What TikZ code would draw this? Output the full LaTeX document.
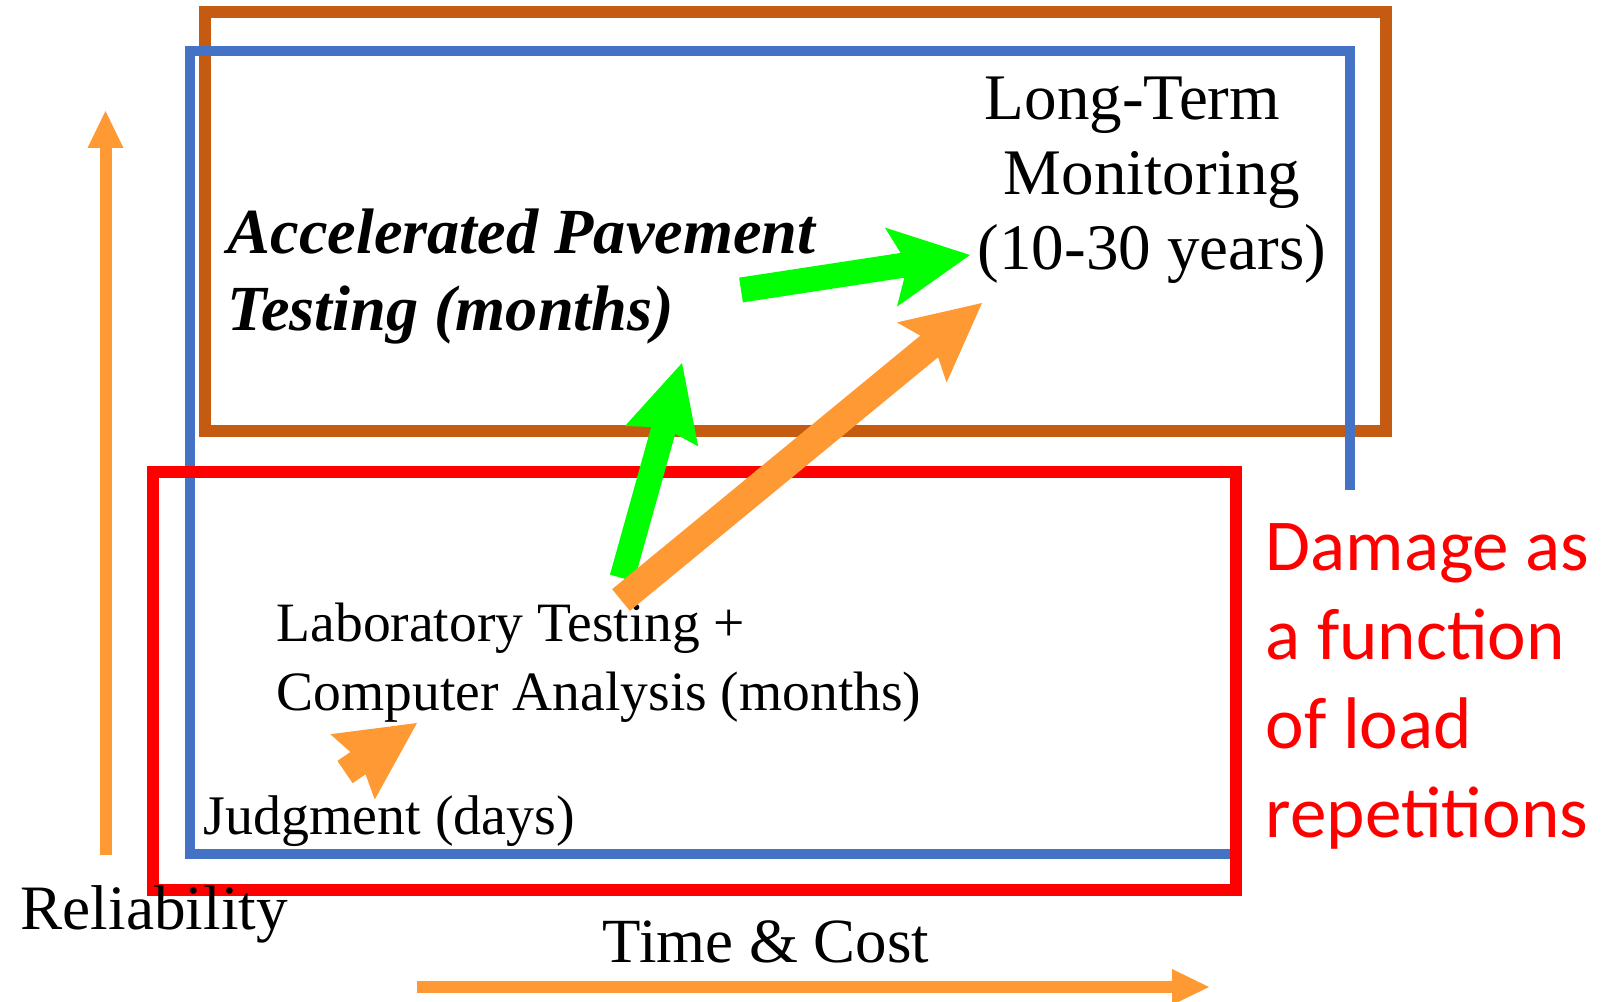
\documentclass[tikz,border=0pt]{standalone}
\usepackage{fontspec}
\setmainfont{Liberation Serif}
\newfontfamily\calibri{Carlito}
\usetikzlibrary{arrows.meta,positioning,calc}
\definecolor{apbrown}{HTML}{C55A11}
\definecolor{apblue}{HTML}{4472C4}
\definecolor{apred}{HTML}{FF0000}
\definecolor{aporange}{HTML}{FF9933}
\definecolor{apgreen}{HTML}{00FF00}

\begin{document}
\begin{tikzpicture}[
    x=0.1mm, y=-0.1mm,
    lbl/.style={inner sep=0pt, anchor=base west, text=black},
    axisarrow/.style={draw=aporange, line width=1.2mm, -{Triangle[length=3.7mm, width=3.6mm, line width=0pt]}},
    fatarrow/.style={line width=2.5mm, -{Stealth[length=8mm, width=8mm, inset=1.7mm, line width=0pt]}}
]
\useasboundingbox (0,0) rectangle (1604,1001);

% Frames
\draw[apbrown, line width=1.15mm] (205,12) rectangle (1386,431);
\draw[apblue, line width=1mm] (1350,490) -- (1350,51) -- (190,51) -- (190,854) -- (1241,854);
\draw[apred, line width=1.2mm] (153,472) rectangle (1236,890);

% Texts (multi-line nodes sit on their last baseline)
\node[lbl, anchor=base, align=center, font=\fontsize{18.5}{21.3}\selectfont] (ltm) at (1152,269) {Long-Term\hspace*{0.6em}\\Monitoring\\(10-30 years)};
\node[lbl, align=left, font=\fontsize{18.3}{21.9}\selectfont\bfseries\itshape] (apt) at (227,330) {Accelerated Pavement\\Testing (months)};
\node[lbl, align=left, font=\fontsize{15.8}{19.5}\selectfont] (lab) at (276,710) {Laboratory Testing +\\Computer Analysis (months)};
\node[lbl, font=\fontsize{15.9}{19}\selectfont] (judg) at (203,834) {Judgment (days)};
\node[lbl, font=\fontsize{18}{21}\selectfont] (rel) at (20,929) {Reliability};
\node[lbl, anchor=base, font=\fontsize{17.9}{21}\selectfont] (tc) at (766,962) {Time \& Cost};
\node[lbl, align=left, text=apred, font=\calibri\fontsize{20.8}{25.3}\selectfont] (dmg) at (1265,837) {Damage as\\a function\\of load\\repetitions};

% Arrow ends
\coordinate (relS) at (105.5,855);
\coordinate (relE) at (105.5,111);
\coordinate (tcS) at (417,987);
\coordinate (tcE) at (1209,987);
\coordinate (jS) at (345,772);
\coordinate (jE) at (417,723);
\coordinate (laS) at (622,578);
\coordinate (laE) at (682,363);
\coordinate (loS) at (621,600);
\coordinate (loE) at (982,303);
\coordinate (apS) at (741,290);
\coordinate (apE) at (970,255);

% Arrows
\draw[axisarrow] (relS) -- (relE);
\draw[axisarrow] (tcS) -- (tcE);
\draw[fatarrow, draw=aporange, line width=2.7mm, -{Stealth[length=7.8mm, width=7.9mm, inset=1mm, line width=0pt]}] (jS) -- (jE);
\draw[fatarrow, draw=apgreen, -{Stealth[length=7.6mm, width=7.6mm, inset=0.9mm, line width=0pt]}] (laS) -- (laE);
\draw[fatarrow, draw=aporange, line width=2.8mm, -{Stealth[length=7.8mm, width=7.8mm, inset=1.5mm, line width=0pt]}] (loS) -- (loE);
\draw[fatarrow, draw=apgreen] (apS) -- (apE);

\end{tikzpicture}
\end{document}
